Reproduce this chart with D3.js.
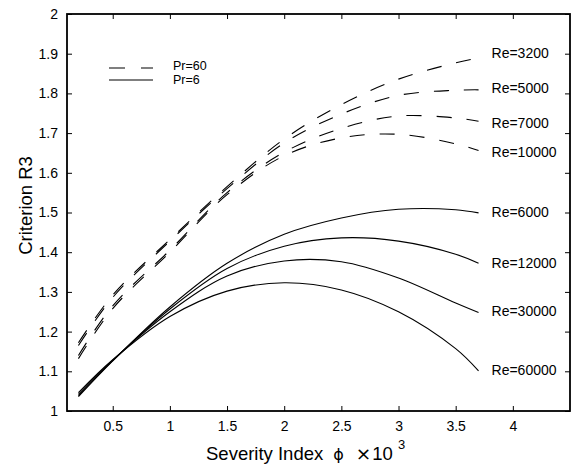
<!DOCTYPE html>
<html>
<head>
<meta charset="utf-8">
<script src="https://cdn.jsdelivr.net/npm/d3@7"></script>
<style>
  body { margin: 0; background: #fff; }
  svg { display: block; font-family: "Liberation Sans", Arial, sans-serif; }
</style>
</head>
<body>
<div id="chart"></div>
<script>
// severity index (x 10^3) where the curves were sampled
var phi = [0.2, 0.5, 1.0, 1.5, 2.0, 2.5, 3.0, 3.5, 3.7];

// Pr = 60 (dashed)
var re3200  = [1.172, 1.292, 1.432, 1.565, 1.685, 1.772, 1.836, 1.877, 1.889];
var re5000  = [1.165, 1.286, 1.428, 1.560, 1.675, 1.748, 1.795, 1.808, 1.809];
var re7000  = [1.140, 1.265, 1.405, 1.550, 1.652, 1.712, 1.743, 1.738, 1.730];
var re10000 = [1.132, 1.258, 1.400, 1.545, 1.643, 1.688, 1.697, 1.673, 1.656];

// Pr = 6 (solid)
var re6000  = [1.036, 1.126, 1.262, 1.372, 1.445, 1.486, 1.508, 1.507, 1.499];
var re12000 = [1.039, 1.127, 1.257, 1.359, 1.415, 1.436, 1.428, 1.395, 1.372];
var re30000 = [1.042, 1.128, 1.250, 1.340, 1.378, 1.376, 1.335, 1.272, 1.248];
var re60000 = [1.046, 1.129, 1.238, 1.302, 1.323, 1.305, 1.250, 1.157, 1.101];

var curveNames = ["Re=3200", "Re=5000", "Re=7000", "Re=10000", "Re=6000", "Re=12000", "Re=30000", "Re=60000"];
var curvePr    = [60, 60, 60, 60, 6, 6, 6, 6];
var labelAt    = [1.902, 1.814, 1.725, 1.652, 1.501, 1.373, 1.252, 1.103];

var xTicks = [0.5, 1, 1.5, 2, 2.5, 3, 3.5, 4];
var yTicks = [1, 1.1, 1.2, 1.3, 1.4, 1.5, 1.6, 1.7, 1.8, 1.9, 2];

var legendNames = ["Pr=60", "Pr=6"];

var allSeries = [re3200, re5000, re7000, re10000, re6000, re12000, re30000, re60000];

var width = 577, height = 468;
var margin = {top: 14, right: 7, bottom: 57, left: 67};
var iw = width - margin.left - margin.right,
    ih = height - margin.top - margin.bottom;

var svg = d3.select("#chart").append("svg")
    .attr("width", width)
    .attr("height", height);

var g = svg.append("g")
    .attr("transform", "translate(" + margin.left + "," + margin.top + ")");

var x = d3.scaleLinear().domain([0.1, 4.5]).range([0, iw]);
var y = d3.scaleLinear().domain([1, 2]).range([ih, 0]);

var dashPattern = "15,15";

/* axes, ticks drawn inward on all four sides */
var bottomAxis = d3.axisBottom(x).tickValues(xTicks).tickSizeInner(-5).tickSizeOuter(0).tickPadding(10)
    .tickFormat(function(d) { return d3.format("")(d); });
var topAxis = d3.axisTop(x).tickValues(xTicks).tickSizeInner(-5).tickSizeOuter(0).tickFormat("");
var leftAxis = d3.axisLeft(y).tickValues(yTicks).tickSizeInner(-5).tickSizeOuter(0).tickPadding(9)
    .tickFormat(function(d) { return d3.format("")(d); });
var rightAxis = d3.axisRight(y).tickValues(yTicks).tickSizeInner(-5).tickSizeOuter(0).tickFormat("");

var axes = [
    g.append("g").attr("transform", "translate(0," + ih + ")").call(bottomAxis),
    g.append("g").call(topAxis),
    g.append("g").call(leftAxis),
    g.append("g").attr("transform", "translate(" + iw + ",0)").call(rightAxis)
];

axes.forEach(function(a) {
    a.select(".domain").remove();
    a.selectAll(".tick line").attr("stroke", "#000").attr("stroke-width", 1);
    a.selectAll(".tick text").attr("font-size", 14).attr("fill", "#000")
        .attr("font-family", "Liberation Sans, Arial, sans-serif");
});

g.append("rect")
    .attr("x", 0).attr("y", 0)
    .attr("width", iw).attr("height", ih)
    .attr("fill", "none")
    .attr("stroke", "#000")
    .attr("stroke-width", 1.8);

/* curves */
var line = d3.line()
    .x(function(d) { return x(d[0]); })
    .y(function(d) { return y(d[1]); })
    .curve(d3.curveCatmullRom.alpha(0.5));

allSeries.forEach(function(vals, i) {
    var pts = phi.map(function(p, j) { return [p, vals[j]]; });
    g.append("path")
        .datum(pts)
        .attr("fill", "none")
        .attr("stroke", "#000")
        .attr("stroke-width", 1.1)
        .attr("stroke-dasharray", curvePr[i] === 60 ? dashPattern : null)
        .attr("d", line);

    g.append("text")
        .attr("x", x(3.7) + 13)
        .attr("y", y(labelAt[i]))
        .attr("dy", "0.35em")
        .attr("font-size", 14)
        .text(curveNames[i]);
});

/* legend */
var legend = g.append("g").attr("transform", "translate(42,54)");
legendNames.forEach(function(name, i) {
    legend.append("line")
        .attr("x1", 0).attr("x2", 44)
        .attr("y1", i * 12).attr("y2", i * 12)
        .attr("stroke", "#000")
        .attr("stroke-width", 1.1)
        .attr("stroke-dasharray", i === 0 ? "16,16" : null);
    legend.append("text")
        .attr("x", 64)
        .attr("y", i * 14 - 2)
        .attr("dy", "0.35em")
        .attr("font-size", 12.5)
        .text(name);
});

/* axis titles */
svg.append("text")
    .attr("transform", "translate(32," + (margin.top + ih / 2 - 7) + ") rotate(-90)")
    .attr("text-anchor", "middle")
    .attr("font-size", 18.5)
    .text("Criterion R3");

var xt = svg.append("text")
    .attr("x", 206)
    .attr("y", 460)
    .attr("font-size", 18.5);
xt.append("tspan").text("Severity Index");
xt.append("tspan").attr("dx", 10).attr("font-family", "DejaVu Sans").attr("font-size", 16).text("\u03d5");
xt.append("tspan").attr("dx", 12).attr("font-family", "DejaVu Sans").text("\u00d7");
xt.append("tspan").attr("dx", 1).text("10");
xt.append("tspan").attr("dx", 5).attr("dy", -11).attr("font-size", 13).text("3");
</script>
</body>
</html>
